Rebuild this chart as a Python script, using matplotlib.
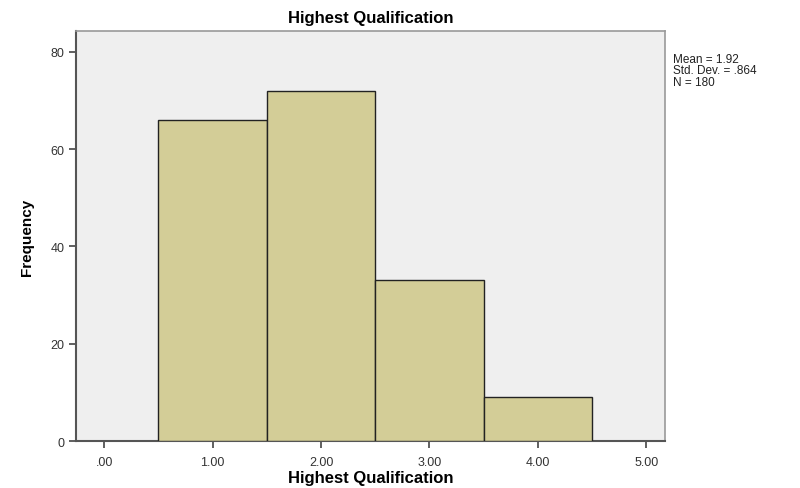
import matplotlib
matplotlib.use("Agg")
import matplotlib.pyplot as plt

plt.rcParams["font.family"] = ["Liberation Sans", "DejaVu Sans"]

# histogram bins (category centres) and counts
categories = [1, 2, 3, 4]
counts = [66, 72, 33, 9]
x_ticks = [0, 1, 2, 3, 4, 5]
x_tick_labels = [".00", "1.00", "2.00", "3.00", "4.00", "5.00"]
y_ticks = [0, 20, 40, 60, 80]
stats_text = "Mean = 1.92\nStd. Dev. = .864\nN = 180"

fig = plt.figure(figsize=(8, 4.89), dpi=100)
fig.patch.set_facecolor("white")
ax = fig.add_axes([0.095, 0.096, 0.736, 0.839])
ax.set_facecolor("#efefef")

ax.bar(categories, counts, width=1.0, color="#d3cd97", edgecolor="#222222", linewidth=1.0, zorder=3)

ax.set_xlim(-0.26, 5.17)
ax.set_ylim(0, 84.3)
ax.set_xticks(x_ticks)
ax.set_xticklabels(x_tick_labels)
ax.set_yticks(y_ticks)
ax.tick_params(direction="out", length=5, width=1.2, color="#444444", labelsize=9, labelcolor="#333333")
ax.tick_params(axis="x", pad=6)

for side in ("left", "bottom"):
    ax.spines[side].set_color("#555555")
    ax.spines[side].set_linewidth(1.5)
for side in ("top", "right"):
    ax.spines[side].set_color("#999999")
    ax.spines[side].set_linewidth(1.2)

ax.set_title("Highest Qualification", fontsize=12, fontweight="bold", pad=6)
ax.set_xlabel("Highest Qualification", fontsize=12, fontweight="bold", labelpad=1)
ax.set_ylabel("Frequency", fontsize=11, fontweight="bold", labelpad=12)

fig.text(0.841, 0.89, stats_text, fontsize=8.5, va="top", ha="left", color="#222222", linespacing=0.95)

plt.savefig("out.png", dpi=100, facecolor="white")
